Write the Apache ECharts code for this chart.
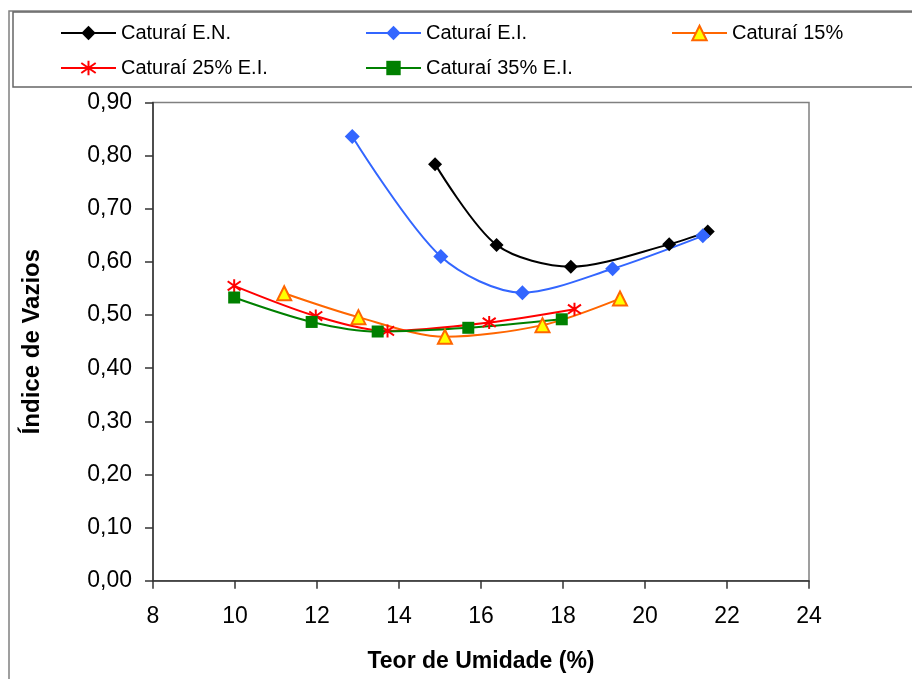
<!DOCTYPE html>
<html>
<head>
<meta charset="utf-8">
<script src="https://cdn.jsdelivr.net/npm/echarts@6/dist/echarts.min.js"></script>
<style>
html,body{margin:0;padding:0;background:#fff;}
#chart{width:912px;height:679px;}
</style>
</head>
<body>
<div id="chart"></div>
<script>
// ---- Data ----
var seriesNames = ['Caturaí E.N.', 'Caturaí E.I.', 'Caturaí 15%', 'Caturaí 25% E.I.', 'Caturaí 35% E.I.'];

var enX = [14.88, 16.38, 18.19, 20.59, 21.53];
var enY = [0.784, 0.632, 0.591, 0.633, 0.657];

var eiX = [12.86, 15.02, 17.01, 19.21, 21.41];
var eiY = [0.836, 0.610, 0.542, 0.587, 0.649];

var c15X = [11.20, 13.01, 15.12, 17.50, 19.39];
var c15Y = [0.541, 0.496, 0.459, 0.481, 0.531];

var c25X = [9.98, 11.97, 13.72, 16.20, 18.28];
var c25Y = [0.555, 0.498, 0.470, 0.486, 0.511];

var c35X = [9.98, 11.87, 13.48, 15.69, 17.97];
var c35Y = [0.533, 0.487, 0.469, 0.476, 0.492];

var xTicks = [8, 10, 12, 14, 16, 18, 20, 22, 24];
var yTickLabels = ['0,00', '0,10', '0,20', '0,30', '0,40', '0,50', '0,60', '0,70', '0,80', '0,90'];

var xTitle = 'Teor de Umidade (%)';
var yTitle = 'Índice de Vazios';

function pairs(xs, ys) {
  return xs.map(function (x, i) { return [x, ys[i]]; });
}

var FONT = '"Liberation Sans", Arial, sans-serif';
var starPath = 'path://M10,0L10,20M3,3L17,17M3,17L17,3';

var chart = echarts.init(document.getElementById('chart'), null, {renderer: 'canvas'});

function legendFor(name, left, top) {
  return {
    data: [name],
    left: left,
    top: top,
    padding: 0,
    itemWidth: 55,
    itemHeight: 18,
    itemGap: 0,
    selectedMode: false,
    textStyle: {fontFamily: FONT, fontSize: 20, color: '#000'}
  };
}

var option = {
  animation: false,
  backgroundColor: '#fff',
  graphic: [
    {type: 'rect', shape: {x: 9, y: 11, width: 1000, height: 1000},
     style: {fill: 'none', stroke: '#808080', lineWidth: 1.5}, silent: true, z: -10},
    {type: 'rect', shape: {x: 13, y: 12, width: 1000, height: 75},
     style: {fill: 'none', stroke: '#666', lineWidth: 1.5}, silent: true, z: -10}
  ],
  legend: [
    legendFor(seriesNames[0], 60, 23),
    legendFor(seriesNames[1], 365, 23),
    legendFor(seriesNames[2], 671, 23),
    legendFor(seriesNames[3], 60, 58),
    legendFor(seriesNames[4], 365, 58)
  ],
  grid: {
    left: 153, top: 102.5, right: 103, bottom: 98.3,
    show: true, borderColor: '#808080', borderWidth: 1.5, backgroundColor: '#fff'
  },
  xAxis: {
    type: 'value', min: xTicks[0], max: xTicks[xTicks.length - 1], interval: 2,
    name: xTitle, nameLocation: 'middle', nameGap: 69,
    nameTextStyle: {fontFamily: FONT, fontSize: 23, fontWeight: 'bold', color: '#000'},
    axisLine: {show: true, onZero: false, lineStyle: {color: '#333', width: 1.5}},
    axisTick: {show: true, inside: false, length: 8, lineStyle: {color: '#333', width: 1.5}},
    splitLine: {show: false},
    axisLabel: {fontFamily: FONT, fontSize: 23, color: '#000', margin: 24,
      formatter: function (v) { return String(v); }}
  },
  yAxis: {
    type: 'value', min: 0, max: 0.9, interval: 0.1,
    name: yTitle, nameLocation: 'middle', nameGap: 109, nameRotate: 90,
    nameTextStyle: {fontFamily: FONT, fontSize: 24, fontWeight: 'bold', color: '#000'},
    axisLine: {show: true, onZero: false, lineStyle: {color: '#333', width: 1.5}},
    axisTick: {show: true, inside: false, length: 8, lineStyle: {color: '#333', width: 1.5}},
    splitLine: {show: false},
    axisLabel: {fontFamily: FONT, fontSize: 23, color: '#000', margin: 21,
      formatter: function (v) { return yTickLabels[Math.round(v * 10)]; }}
  },
  series: [
    {name: seriesNames[0], type: 'line', data: pairs(enX, enY), smooth: 0.3,
     symbol: 'diamond', symbolSize: 14,
     lineStyle: {color: '#000', width: 2}, itemStyle: {color: '#000'}},
    {name: seriesNames[1], type: 'line', data: pairs(eiX, eiY), smooth: 0.3,
     symbol: 'diamond', symbolSize: 15,
     lineStyle: {color: '#3366FF', width: 2}, itemStyle: {color: '#3366FF'}},
    {name: seriesNames[2], type: 'line', data: pairs(c15X, c15Y), smooth: 0.3,
     symbol: 'triangle', symbolSize: 14,
     lineStyle: {color: '#FF6600', width: 2},
     itemStyle: {color: '#FFFF00', borderColor: '#FF6600', borderWidth: 2}},
    {name: seriesNames[3], type: 'line', data: pairs(c25X, c25Y), smooth: 0.3,
     symbol: starPath, symbolSize: 13,
     lineStyle: {color: '#FF0000', width: 2},
     itemStyle: {color: '#FF0000', borderColor: '#FF0000', borderWidth: 2}},
    {name: seriesNames[4], type: 'line', data: pairs(c35X, c35Y), smooth: 0.3,
     symbol: 'rect', symbolSize: 12,
     lineStyle: {color: '#008000', width: 2}, itemStyle: {color: '#008000'}}
  ]
};

chart.setOption(option);
</script>
</body>
</html>
